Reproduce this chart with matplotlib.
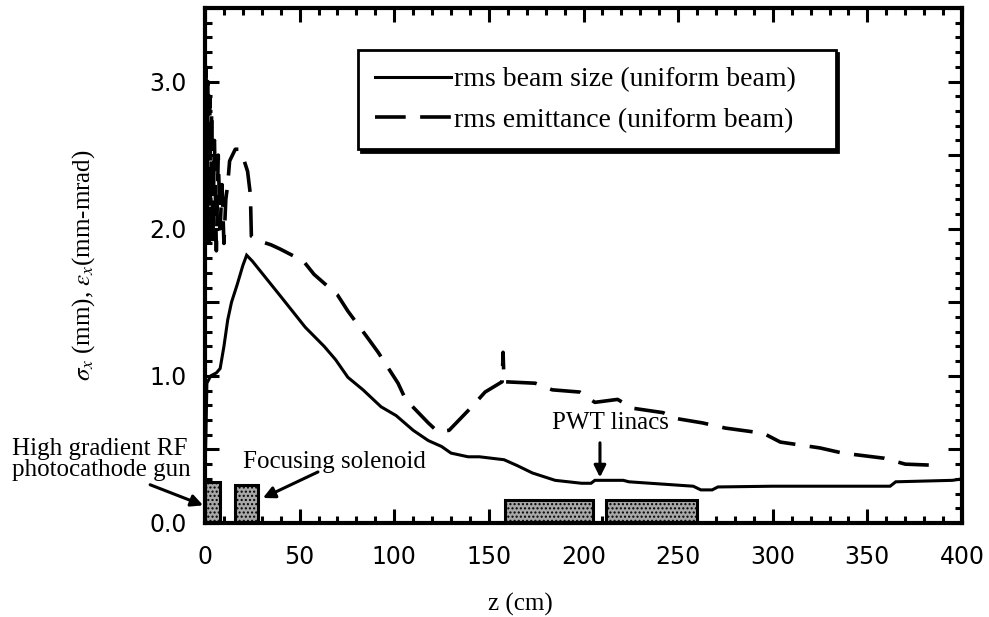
import numpy as np
import matplotlib
matplotlib.use("Agg")
import matplotlib.pyplot as plt
from matplotlib.ticker import MultipleLocator, FuncFormatter

# ---- data -------------------------------------------------------------
# rms beam size along the beamline
z_size = [0, 0.5, 1, 3, 6, 8, 10, 12, 14, 17, 20, 22, 25, 30, 40, 53, 63, 69,
          75.5, 83.5, 93, 101, 110, 118, 125, 130, 139, 145, 158, 165, 173,
          185, 199, 204, 206, 221, 224, 258, 262, 268, 271, 300, 362, 365,
          395, 400]
sigma_x = [0.35, 0.6, 0.95, 1.0, 1.02, 1.05, 1.2, 1.38, 1.5, 1.62, 1.75, 1.82,
           1.78, 1.7, 1.54, 1.33, 1.2, 1.11, 0.99, 0.905, 0.79, 0.73, 0.63,
           0.56, 0.52, 0.475, 0.45, 0.45, 0.43, 0.39, 0.34, 0.29, 0.27, 0.27,
           0.29, 0.29, 0.28, 0.25, 0.225, 0.225, 0.245, 0.25, 0.25, 0.28,
           0.29, 0.30]

# rms emittance along the beamline
z_emit = [0, 0.5, 1, 1.5, 2, 2.5, 3, 3.5, 4, 5, 6, 7, 8, 9, 10, 11, 12, 13,
          16, 18, 20, 22.5, 24, 24.5, 28, 35, 40, 52, 57.6, 70, 75.5, 86.7,
          91.5, 102, 106, 118, 123, 129, 141, 148, 157, 157.5, 158, 174.5,
          183.5, 198, 206, 218, 226, 242, 249, 263, 275, 295, 304, 325, 337,
          359, 370, 390]
eps_x = [1.8, 3.1, 2.0, 3.0, 1.85, 2.9, 2.0, 2.8, 1.9, 2.6, 1.85, 2.5, 2.0,
         2.3, 1.9, 2.2, 2.3, 2.46, 2.54, 2.54, 2.49, 2.39, 2.23, 1.95, 1.92,
         1.89, 1.86, 1.78, 1.69, 1.55, 1.44, 1.245, 1.16, 0.95, 0.84, 0.68,
         0.62, 0.63, 0.79, 0.89, 0.96, 1.16, 0.96, 0.95, 0.905, 0.89, 0.82,
         0.84, 0.78, 0.75, 0.71, 0.68, 0.645, 0.61, 0.55, 0.51, 0.475, 0.44,
         0.40, 0.39]

# beamline elements: start, length, drawn height
elem_start = [0, 16, 158.5, 212]
elem_length = [8, 12, 46.5, 48]
elem_height = [0.28, 0.26, 0.156, 0.156]

x_ticks = [0, 50, 100, 150, 200, 250, 300, 350, 400]
y_labels = [0.0, 1.0, 2.0, 3.0]

# ---- figure -----------------------------------------------------------
serif = ["Liberation Serif", "DejaVu Serif"]
sans = ["DejaVu Sans"]
plt.rcParams["mathtext.fontset"] = "stix"

fig = plt.figure(figsize=(9.89, 6.17), dpi=100)
ax = fig.add_axes([205 / 989, 94 / 617, 757 / 989, 515 / 617])

ax.bar(elem_start, elem_height, width=elem_length, align="edge",
       facecolor="#a8a8a8", edgecolor="black", linewidth=2.2, hatch="....",
       zorder=2)

ax.plot(z_size, sigma_x, color="black", lw=2.2, solid_joinstyle="miter",
        label="rms beam size (uniform beam)", zorder=3)
ax.plot(z_emit, eps_x, color="black", lw=2.6, linestyle=(0, (8.5, 4.0)),
        label="rms emittance (uniform beam)", zorder=3)

ax.set_xlim(0, 400)
ax.set_ylim(0, 3.5)

ax.xaxis.set_major_locator(MultipleLocator(50))
ax.xaxis.set_minor_locator(MultipleLocator(10))
ax.yaxis.set_major_locator(MultipleLocator(0.5))
ax.yaxis.set_minor_locator(MultipleLocator(0.1))
ax.yaxis.set_major_formatter(FuncFormatter(
    lambda v, p: f"{v:.1f}" if any(abs(v - t) < 1e-6 for t in y_labels) else ""))
ax.set_xticks(x_ticks)

ax.tick_params(which="both", direction="in", top=True, right=True,
               width=2.2, colors="black")
ax.tick_params(which="major", length=10)
ax.tick_params(which="minor", length=5)
ax.tick_params(axis="x", which="major", pad=16)
ax.tick_params(axis="y", which="major", pad=13)
for lab in ax.get_xticklabels() + ax.get_yticklabels():
    lab.set_family(sans)
    lab.set_fontsize(17)

for sp in ax.spines.values():
    sp.set_linewidth(3.0)

ax.set_xlabel("z (cm)", family=serif, fontsize=18)
ax.xaxis.set_label_coords(0.416, -0.135)
ax.set_ylabel(r"$\sigma_x$ (mm), $\varepsilon_x$(mm-mrad)", family=serif,
              fontsize=18)
ax.yaxis.set_label_coords(-0.143, 0.5)

leg = ax.legend(loc="upper left", bbox_to_anchor=(0.202, 0.724, 0.631, 0.194),
                mode="expand", borderaxespad=0,
                prop={"family": serif, "size": 20}, frameon=True,
                fancybox=False, edgecolor="black", framealpha=1,
                handlelength=2.75, handletextpad=0.1, borderpad=0.6,
                labelspacing=0.54,
                shadow={"color": "black", "alpha": 1})
leg.get_frame().set_linewidth(2.0)

# annotations for the beamline elements
arrow = dict(arrowstyle="-|>,head_length=0.7,head_width=0.35",
             color="black", lw=2.2, shrinkA=0, shrinkB=0)
ax.text(-102, 0.43, "High gradient RF\nphotocathode gun", family=serif,
        fontsize=18, ha="left", va="center", linespacing=0.95,
        clip_on=False)
ax.annotate("", xy=(-1, 0.12), xytext=(-29, 0.26), arrowprops=arrow,
            annotation_clip=False)

ax.text(20, 0.415, "Focusing solenoid", family=serif, fontsize=18,
        ha="left", va="center")
ax.annotate("", xy=(30.6, 0.17), xytext=(59.7, 0.347), arrowprops=arrow)

ax.text(183.4, 0.68, "PWT linacs", family=serif, fontsize=18,
        ha="left", va="center")
ax.annotate("", xy=(208.7, 0.31), xytext=(208.7, 0.545), arrowprops=arrow)

fig.savefig("out.png", dpi=100)
